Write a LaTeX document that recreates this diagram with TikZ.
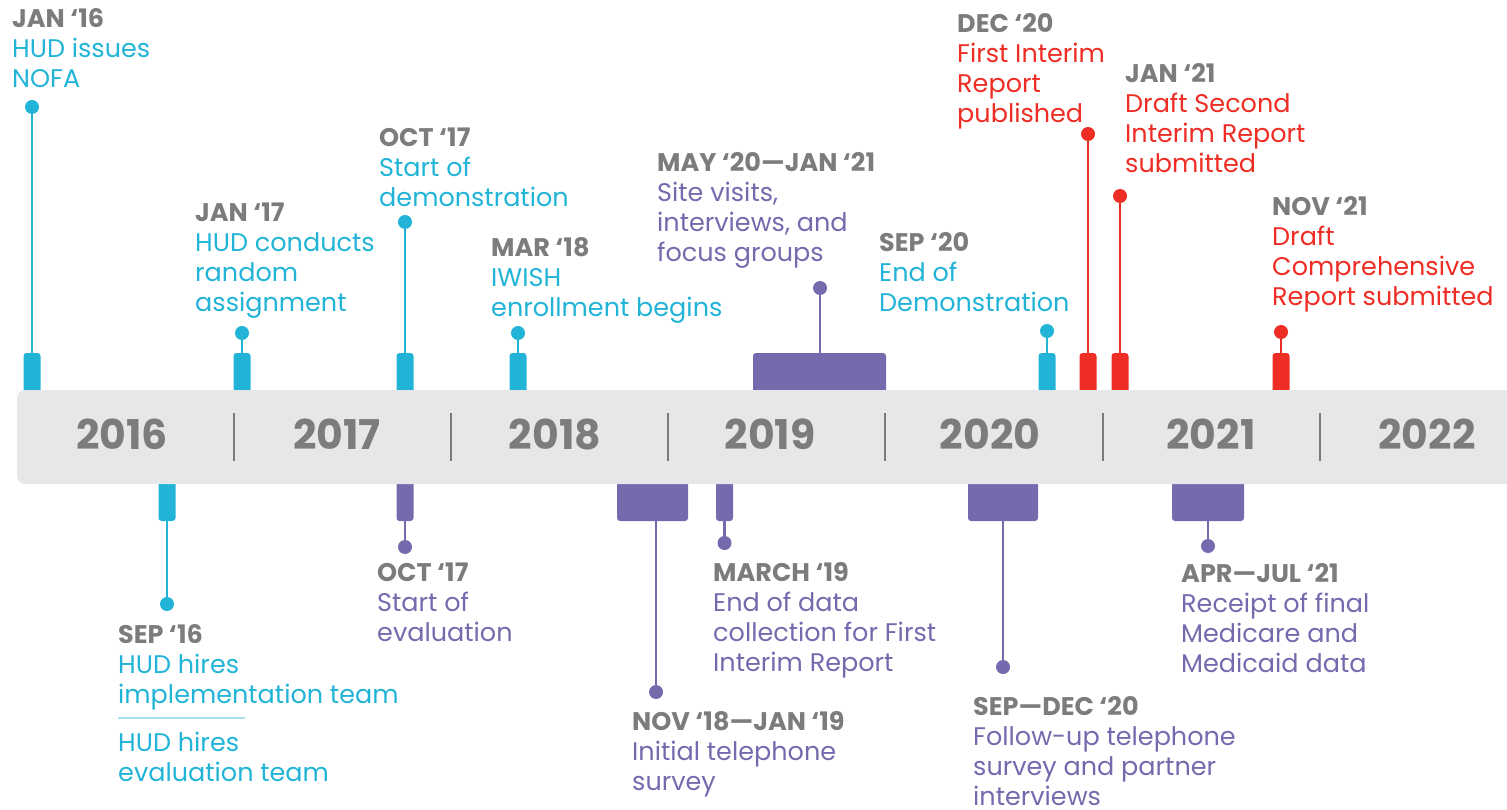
\documentclass[tikz,border=0pt]{standalone}
\usepackage{fontspec}
\setmainfont{Poppins}
\definecolor{cyanC}{HTML}{21B4D7}
\definecolor{purpC}{HTML}{7669AD}
\definecolor{redC}{HTML}{EE2D24}
\definecolor{grayT}{HTML}{7B7D7C}
\definecolor{barC}{HTML}{E6E7E8}
\definecolor{sepC}{HTML}{7A7C7B}
\definecolor{ruleC}{HTML}{A6DFEE}
\newcommand{\evhead}[1]{{\bfseries\color{grayT}#1}}
\tikzset{
  evtab/.style={fill=#1, rounded corners=3pt, inner sep=0pt, minimum width=17pt, minimum height=40pt},
  evblock/.style={fill=#1, rounded corners=3pt, inner sep=0pt, minimum height=40pt},
  evdot/.style={circle, fill=#1, inner sep=0pt, minimum size=14pt},
  stem/.style={draw=#1, line width=2.4pt},
  lbl/.style={anchor=base west, inner sep=0pt, font=\fontsize{25.5}{30}\selectfont},
  yearlbl/.style={anchor=base, inner sep=0pt, text=grayT, font=\fontsize{41}{41}\selectfont\bfseries},
  yearsep/.style={draw=sepC, line width=2.2pt}
}
\begin{document}
\begin{tikzpicture}[x=1pt,y=-1pt]
\useasboundingbox (0,0) rectangle (1507,810);
\clip (0,0) rectangle (1507,810);
% ---------- tabs above the bar ----------
\node[evtab=cyanC] (a1t) at (32,373) {};
\node[evtab=cyanC] (a2t) at (242,373) {};
\node[evtab=cyanC] (a3t) at (405,373) {};
\node[evtab=cyanC] (a4t) at (518,373) {};
\node[evblock=purpC, minimum width=133pt] (a5t) at (819.5,373) {};
\node[evtab=cyanC] (a6t) at (1047,373) {};
\node[evtab=redC] (a7t) at (1088,373) {};
\node[evtab=redC] (a8t) at (1120,373) {};
\node[evtab=redC] (a9t) at (1281,373) {};
% ---------- tabs below the bar ----------
\node[evtab=cyanC] (b1t) at (167,501) {};
\node[evtab=purpC] (b2t) at (405,501) {};
\node[evblock=purpC, minimum width=71pt] (b3t) at (652.5,501) {};
\node[evtab=purpC] (b4t) at (724.5,501) {};
\node[evblock=purpC, minimum width=70pt] (b5t) at (1003,501) {};
\node[evblock=purpC, minimum width=72pt] (b6t) at (1208,501) {};
% ---------- bar ----------
\fill[barC, rounded corners=8pt] (17,390) rectangle (1540,484);
\node[yearlbl] (y16) at (122,449) {2016};
\node[yearlbl] (y17) at (337,449) {2017};
\node[yearlbl] (y18) at (555,449) {2018};
\node[yearlbl] (y19) at (770,449) {2019};
\node[yearlbl] (y20) at (990,449) {2020};
\node[yearlbl] (y21) at (1211,449) {2021};
\node[yearlbl] (y22) at (1427,449) {2022};
\foreach \sx in {234,451,668,885,1103,1320}{
  \draw[yearsep] (\sx,413) -- (\sx,461);
}
% ---------- dots ----------
\node[evdot=cyanC] (a1d) at (32,107) {};
\node[evdot=cyanC] (a2d) at (242,333) {};
\node[evdot=cyanC] (a3d) at (405,222) {};
\node[evdot=cyanC] (a4d) at (518,333) {};
\node[evdot=purpC] (a5d) at (820,288) {};
\node[evdot=cyanC] (a6d) at (1047,331) {};
\node[evdot=redC] (a7d) at (1088,134) {};
\node[evdot=redC] (a8d) at (1120,196) {};
\node[evdot=redC] (a9d) at (1281,332) {};
\node[evdot=cyanC] (b1d) at (167,604) {};
\node[evdot=purpC] (b2d) at (405,547) {};
\node[evdot=purpC] (b3d) at (656,692) {};
\node[evdot=purpC] (b4d) at (724.5,543) {};
\node[evdot=purpC] (b5d) at (1003,667) {};
\node[evdot=purpC] (b6d) at (1208,546) {};
% ---------- stems ----------
\draw[stem=cyanC] (a1t.north) -- (a1d.center);
\draw[stem=cyanC] (a2t.north) -- (a2d.center);
\draw[stem=cyanC] (a3t.north) -- (a3d.center);
\draw[stem=cyanC] (a4t.north) -- (a4d.center);
\draw[stem=purpC] (a5t.north -| a5d) -- (a5d.center);
\draw[stem=cyanC] (a6t.north) -- (a6d.center);
\draw[stem=redC] (a7t.north) -- (a7d.center);
\draw[stem=redC] (a8t.north) -- (a8d.center);
\draw[stem=redC] (a9t.north) -- (a9d.center);
\draw[stem=cyanC] (b1t.south) -- (b1d.center);
\draw[stem=purpC] (b2t.south) -- (b2d.center);
\draw[stem=purpC] (b3t.south -| b3d) -- (b3d.center);
\draw[stem=purpC] (b4t.south) -- (b4d.center);
\draw[stem=purpC] (b5t.south) -- (b5d.center);
\draw[stem=purpC] (b6t.south) -- (b6d.center);
% ---------- labels above ----------
\node[lbl, text=cyanC] (a1l) at (12,28) {\begin{tabular}[t]{@{}l@{}}\evhead{JAN ‘16}\\HUD issues\\NOFA\end{tabular}};
\node[lbl, text=cyanC] (a2l) at (195,222) {\begin{tabular}[t]{@{}l@{}}\evhead{JAN ‘17}\\HUD conducts\\random\\assignment\end{tabular}};
\node[lbl, text=cyanC] (a3l) at (379,147) {\begin{tabular}[t]{@{}l@{}}\evhead{OCT ‘17}\\Start of\\demonstration\end{tabular}};
\node[lbl, text=cyanC] (a4l) at (491,257) {\begin{tabular}[t]{@{}l@{}}\evhead{MAR ‘18}\\IWISH\\enrollment begins\end{tabular}};
\node[lbl, text=purpC] (a5l) at (657,172) {\begin{tabular}[t]{@{}l@{}}\evhead{MAY ‘20—JAN ‘21}\\Site visits,\\interviews, and\\focus groups\end{tabular}};
\node[lbl, text=cyanC] (a6l) at (879,252) {\begin{tabular}[t]{@{}l@{}}\evhead{SEP ‘20}\\End of\\Demonstration\end{tabular}};
\node[lbl, text=redC] (a7l) at (957,33) {\begin{tabular}[t]{@{}l@{}}\evhead{DEC ‘20}\\First Interim\\Report\\published\end{tabular}};
\node[lbl, text=redC] (a8l) at (1125,83) {\begin{tabular}[t]{@{}l@{}}\evhead{JAN ‘21}\\Draft Second\\Interim Report\\submitted\end{tabular}};
\node[lbl, text=redC] (a9l) at (1272,216) {\begin{tabular}[t]{@{}l@{}}\evhead{NOV ‘21}\\Draft\\Comprehensive\\Report submitted\end{tabular}};
% ---------- labels below ----------
\node[lbl, text=cyanC] (b1l) at (118,643) {\begin{tabular}[t]{@{}l@{}}\evhead{SEP ‘16}\\HUD hires\\implementation team\end{tabular}};
\coordinate (b1r1) at (118,718);
\coordinate (b1r2) at (245,718);
\draw[ruleC, line width=1.6pt] (b1r1) -- (b1r2);
\node[lbl, text=cyanC] (b1m) at (118,751) {\begin{tabular}[t]{@{}l@{}}HUD hires\\evaluation team\end{tabular}};
\node[lbl, text=purpC] (b2l) at (377,581) {\begin{tabular}[t]{@{}l@{}}\evhead{OCT ‘17}\\Start of\\evaluation\end{tabular}};
\node[lbl, text=purpC] (b3l) at (632,730) {\begin{tabular}[t]{@{}l@{}}\evhead{NOV ‘18—JAN ‘19}\\Initial telephone\\survey\end{tabular}};
\node[lbl, text=purpC] (b4l) at (713,581) {\begin{tabular}[t]{@{}l@{}}\evhead{MARCH ‘19}\\End of data\\collection for First\\Interim Report\end{tabular}};
\node[lbl, text=purpC] (b5l) at (973,715) {\begin{tabular}[t]{@{}l@{}}\evhead{SEP—DEC ‘20}\\Follow-up telephone\\survey and partner\\interviews\end{tabular}};
\node[lbl, text=purpC] (b6l) at (1181,582) {\begin{tabular}[t]{@{}l@{}}\evhead{APR—JUL ‘21}\\Receipt of final\\Medicare and\\Medicaid data\end{tabular}};
\end{tikzpicture}
\end{document}
